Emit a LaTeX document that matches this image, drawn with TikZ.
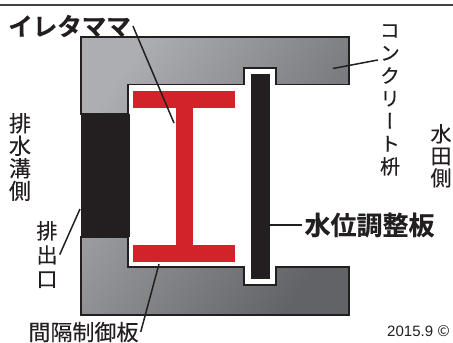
\documentclass[tikz,border=0pt]{standalone}
\usepackage{fontspec}
\newfontfamily\jpfont[FakeBold=0.25]{Noto Sans CJK JP}
\newfontfamily\jpheavy[FakeBold=0.4]{Noto Sans CJK JP Bold}
\newfontfamily\jpvfont[RawFeature=+vert,FakeBold=0.15]{Noto Sans CJK JP}
\newfontfamily\jpthin{Noto Sans CJK JP}
\setmainfont{Liberation Sans}
\definecolor{inkblack}{HTML}{231F20}
\definecolor{plated}{HTML}{D2232A}
\definecolor{concretelight}{HTML}{ACAEB1}
\definecolor{concretedark}{HTML}{626366}
\tikzset{
    leader/.style = {draw = inkblack, line width = 1.5pt},
    tate/.style = {align = center, inner sep = 2pt, anchor = north, text = inkblack},
    yoko/.style = {inner sep = 2pt, text = inkblack}
}
\begin{document}
\begin{tikzpicture}[x = 1pt, y = -1pt]
    \useasboundingbox (0, 0) rectangle (453, 343);

    \draw [line width = 1.2pt, inkblack!85] (0, 5) -- (453, 5);

    % concrete
    \shade [draw = inkblack, line width = 1.8pt, top color = concretelight, bottom color = concretedark, shading angle = 55]
        (81, 37) -- (349, 37) -- (349, 84.5) -- (276, 84.5) -- (276, 68) -- (244, 68) -- (244, 84.5)
        -- (128, 84.5) -- (128, 114) -- (81, 114) -- cycle
        (81, 237) -- (128, 237) -- (128, 267) -- (244, 267) -- (244, 285) -- (276, 285) -- (276, 267)
        -- (349, 267) -- (349, 315) -- (81, 315) -- cycle;
    \fill [inkblack] (80.5, 114) rectangle (130, 237);

    % red plate
    \fill [plated] (133, 91) rectangle (235, 108);
    \fill [plated] (176, 108) rectangle (193, 245);
    \fill [plated] (133, 245) rectangle (235, 262);

    % black plate
    \fill [inkblack] (251, 74) rectangle (270, 279);

    \node [yoko, font = \jpheavy\fontsize{24.5}{26}\selectfont] (itaname) at (69.5, 26) {イレタママ};
    \node [yoko, font = \jpheavy\fontsize{26}{28}\selectfont] (platename) at (369.5, 225) {水位調整板};
    \node [yoko, font = \jpfont\fontsize{22}{24}\selectfont] (gapname) at (83.5, 332) {間隔制御板};
    \node [tate, font = \jpfont\fontsize{22}{22.5}\selectfont] (drainside) at (20, 111) {排\\水\\溝\\側};
    \node [tate, font = \jpfont\fontsize{21}{24}\selectfont] (outlet) at (47, 219) {排\\出\\口};
    \node [tate, font = \jpvfont\fontsize{20}{22.7}\selectfont] (basin) at (390, 22) {コ\\ン\\ク\\リ\\ー\\ト\\枡};
    \node [tate, font = \jpfont\fontsize{21}{22}\selectfont] (fieldside) at (441, 122) {水\\田\\側};
    \node [yoko, font = \fontsize{15}{17}\selectfont] (year) at (418.5, 331) {2015.9 \jpthin©};

    \coordinate (itaend) at (174, 123);
    \coordinate (basinend) at (333, 68.5);
    \coordinate (outletend) at (80, 209);
    \coordinate (gapend) at (159, 264);
    \coordinate (plateend) at (270, 225);

    \draw [leader] (itaname.east) -- (itaend);
    \draw [leader] (basin.107) -- (basinend);
    \draw [leader] (outlet.east) -- (outletend);
    \draw [leader] (gapname.east) -- (gapend);
    \draw [leader] (platename.west) -- (plateend);
\end{tikzpicture}
\end{document}
